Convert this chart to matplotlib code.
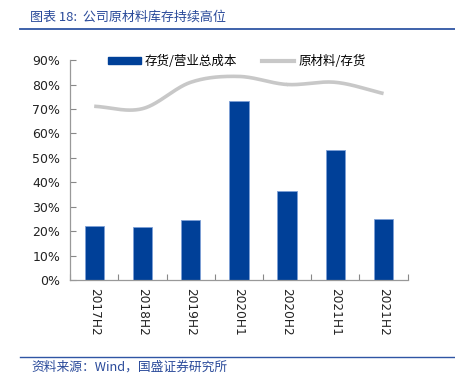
import numpy as np
import matplotlib
matplotlib.use('Agg')
import matplotlib.pyplot as plt
from matplotlib.lines import Line2D
from matplotlib.patches import Patch

plt.rcParams['font.family'] = ['DejaVu Sans', 'Noto Sans CJK SC']

CATEGORIES = ['2017H2', '2018H2', '2019H2', '2020H1', '2020H2', '2021H1', '2021H2']
INVENTORY_TO_COST = [22.2, 21.5, 24.4, 73.2, 36.3, 53.1, 24.9]   # 存货/营业总成本, %
RAW_TO_INVENTORY = [71.1, 70.1, 80.9, 83.3, 80.0, 80.9, 76.3]    # 原材料/存货, %
Y_TICKS = [0, 10, 20, 30, 40, 50, 60, 70, 80, 90]

TITLE = '图表 18:  公司原材料库存持续高位'
SOURCE = '资料来源：Wind，国盛证券研究所'

BAR_COLOR = '#004098'
BAR_EDGE = '#7d9fd6'
LINE_COLOR = '#c8c8c8'
TEXT_BLUE = '#2a4a9a'
CJK = ['Noto Sans CJK SC', 'DejaVu Sans']


def catmull_rom(x, y, n=30):
    # smooth drawing of the line through the data points
    x = np.asarray(x, float)
    y = np.asarray(y, float)
    px = np.concatenate([[2 * x[0] - x[1]], x, [2 * x[-1] - x[-2]]])
    py = np.concatenate([[2 * y[0] - y[1]], y, [2 * y[-1] - y[-2]]])
    xs, ys = [], []
    t = np.linspace(0, 1, n)
    for i in range(1, len(px) - 2):
        for p, out in ((px, xs), (py, ys)):
            p0, p1, p2, p3 = p[i - 1], p[i], p[i + 1], p[i + 2]
            out.extend(0.5 * (2 * p1 + (-p0 + p2) * t
                              + (2 * p0 - 5 * p1 + 4 * p2 - p3) * t ** 2
                              + (-p0 + 3 * p1 - 3 * p2 + p3) * t ** 3))
    return np.array(xs), np.array(ys)


fig = plt.figure(figsize=(4.55, 3.9), dpi=100)
ax = fig.add_axes([0.154, 0.282, 0.742, 0.564])

x = np.arange(len(CATEGORIES))
ax.bar(x, INVENTORY_TO_COST, width=0.4, color=BAR_COLOR, edgecolor=BAR_EDGE,
       linewidth=0.6, zorder=2)
sx, sy = catmull_rom(x, RAW_TO_INVENTORY)
ax.plot(sx, sy, color=LINE_COLOR, linewidth=2.6, solid_capstyle='butt', zorder=3)

ax.set_xlim(-0.5, len(CATEGORIES) - 0.5)
ax.set_ylim(0, 90)
ax.set_yticks(Y_TICKS)
ax.set_yticklabels([f'{v}%' for v in Y_TICKS], fontsize=9, color='#222222')
ax.set_xticks(np.arange(len(CATEGORIES) + 1) - 0.5, minor=False)
ax.set_xticklabels([])
ax.set_xticks(x, minor=True)
ax.set_xticklabels(CATEGORIES, minor=True, rotation=-90, fontsize=8.7, color='#222222')
ax.tick_params(axis='x', which='minor', length=0, pad=6)
ax.tick_params(axis='x', which='major', direction='in', length=4, color='#888888')
ax.tick_params(axis='y', direction='in', length=4, color='#888888', pad=7)

for side in ('top', 'right'):
    ax.spines[side].set_visible(False)
for side in ('left', 'bottom'):
    ax.spines[side].set_color('#999999')
    ax.spines[side].set_linewidth(0.9)

handles = [Patch(facecolor=BAR_COLOR, edgecolor=BAR_COLOR),
           Line2D([0], [0], color=LINE_COLOR, linewidth=3)]
leg = ax.legend(handles, ['存货/营业总成本', '原材料/存货'], loc='upper left',
                bbox_to_anchor=(0.08, 1.075), ncol=2, frameon=False,
                prop={'family': CJK, 'size': 9}, handlelength=2.6,
                handleheight=0.4, handletextpad=0.3, columnspacing=2.0)

# header and footer
fig.text(0.066, 0.955, TITLE, fontsize=9.4, color=TEXT_BLUE, family=CJK,
         style='italic', va='center')
fig.add_artist(Line2D([0.044, 1.0], [0.925, 0.925], color='#2f55a4', linewidth=1.3))
fig.add_artist(Line2D([0.044, 1.0], [0.084, 0.084], color='#2f55a4', linewidth=1.0))
fig.text(0.068, 0.058, SOURCE, fontsize=9.2, color=TEXT_BLUE, family=CJK,
         style='italic', va='center')

fig.savefig('out.png', dpi=100)
